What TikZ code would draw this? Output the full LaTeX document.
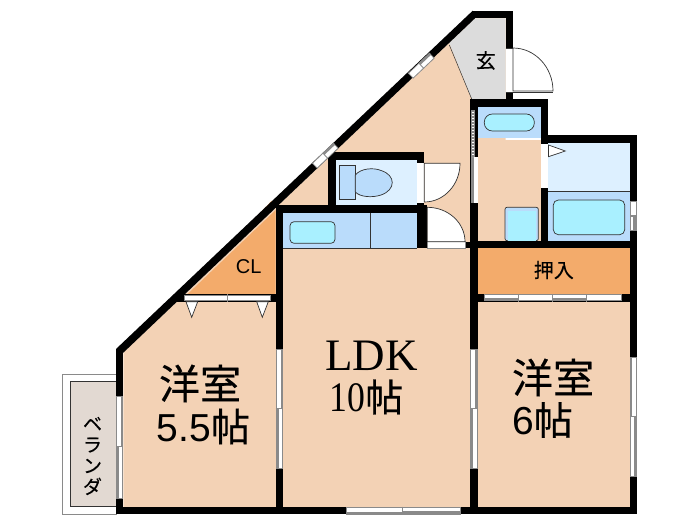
\documentclass[tikz,border=0pt]{standalone}
\usepackage{fontspec}
\setmainfont{Liberation Sans}
\newfontfamily\jpfont[FakeBold=0.3]{Noto Sans CJK JP}
\newfontfamily\ldkfont{Liberation Serif}
\definecolor{floorc}{HTML}{F3D2B5}
\definecolor{closetc}{HTML}{F3AB6B}
\definecolor{bluec}{HTML}{BADCFB}
\definecolor{palec}{HTML}{DDF0FF}
\definecolor{cyanc}{HTML}{A9F0FF}
\definecolor{genkanc}{HTML}{DCDCDC}
\definecolor{verandac}{HTML}{E2D9D2}
\definecolor{linec}{HTML}{333333}
\definecolor{winc}{HTML}{8A8A8A}
\tikzset{
  wall/.style={fill=black},
  fixture/.style={draw=linec,line width=0.7pt},
  doorleaf/.style={draw=linec,fill=white,line width=0.7pt},
  winframe/.style={draw=winc,fill=white,line width=0.8pt},
  winshade/.style={fill=winc},
  jplabel/.style={inner sep=0pt,font=\jpfont},
}
\begin{document}
\begin{tikzpicture}[x=1pt,y=-1pt]
\useasboundingbox (0,0) rectangle (700,525);

% veranda
\draw[winc,fill=white,line width=0.9pt] (62.7,374) rectangle (116,514);
\draw[linec,fill=verandac,line width=0.6pt] (70,381) rectangle (116,506.7);

% floors
\fill[closetc] (246.7,226.7) -- (271.7,200.7) -- (275,205) -- (250,230) -- cycle;
\fill[floorc] (123.3,352.7) -- (475,18.3) -- (505.5,18.3) -- (505.5,140) -- (630,140) -- (630,507) -- (123.3,507) -- cycle;
\fill[genkanc] (449.3,43) -- (475,18.3) -- (505.5,18.3) -- (505.5,99) -- (471.7,99) -- cycle;
\draw[linec,line width=0.5pt] (449.3,45) -- (471.7,99);
\fill[closetc] (187.7,294) -- (275.7,210) -- (275.7,294) -- cycle;
\fill[closetc] (477.7,248.3) rectangle (630,293.5);
\fill[palec] (336,160) rectangle (417,205);
\fill[palec] (548.3,143) rectangle (630,191);
\fill[bluec] (548.3,191) rectangle (630,240.7);
\fill[bluec] (477.7,107) rectangle (540.7,138);
\fill[bluec] (283.3,213) rectangle (417,248);
\draw[linec,line width=0.6pt] (283.3,248) -- (417,248);
\draw[linec,line width=0.6pt] (370,213) -- (370,248);
\draw[linec,line width=0.6pt] (548.3,191) -- (630,191);

% fixtures
\draw[fixture,fill=cyanc,rounded corners=4pt] (290,221.7) rectangle (335,243.3);
\draw[fixture,fill=cyanc,rounded corners=8pt] (484.3,114) rectangle (534.3,131);
\draw[fixture,fill=cyanc,rounded corners=5pt] (553.3,200) rectangle (624.7,234.7);
\draw[fixture,fill=bluec,rounded corners=2pt] (505,207.3) rectangle (538.3,240.7);
\fill[cyanc] (508,211) rectangle (535.5,240.7);
\draw[fixture,fill=bluec] (339.3,165.7) rectangle (355.3,199.3);
\draw[fixture,fill=bluec] (355.3,175) .. controls (361,168) and (374,167.5) .. (381,170.5) .. controls (396,175) and (396,190) .. (381,195) .. controls (372,198) and (360,197) .. (355.3,192) -- cycle;

% walls
\fill[wall] (116,349) -- (472.7,10.7) -- (475,18.3) -- (123.3,352.7) -- cycle;
\fill[wall] (116,349) rectangle (123.3,514);
\fill[wall] (472.7,10.7) rectangle (513,18.3);
\fill[wall] (505.5,10.7) rectangle (513,99);
\fill[wall] (470,99) rectangle (548.3,107);
\fill[wall] (540.7,99) rectangle (548.3,248);
\fill[wall] (540.7,135) rectangle (637,143);
\fill[wall] (630,135) rectangle (637,514);
\fill[wall] (116,506.7) rectangle (637,514);
\fill[wall] (470,99) rectangle (477.7,514);
\fill[wall] (470,240.7) rectangle (637,248.3);
\fill[wall] (477.7,293.5) rectangle (637,302);
\fill[wall] (275.7,205) rectangle (283.3,514);
\fill[wall] (176,294) rectangle (283.3,301.7);
\fill[wall] (328.3,152.3) rectangle (424.3,160);
\fill[wall] (328.3,152.3) rectangle (336,213);
\fill[wall] (417,152.3) rectangle (424.3,213);
\fill[wall] (275.7,205) rectangle (427.3,213.3);
\fill[wall] (417,213) rectangle (427.3,248);
\fill[wall] (465,241.7) rectangle (470,248);

% doors
\fill[white] (505.5,48) rectangle (513,92);
\draw[doorleaf] (513,48) arc[start angle=90,end angle=0,x radius=40pt,y radius=43pt] -- (513,91) -- cycle;
\draw[linec,line width=0.5pt] (505.5,48) -- (513,48) (505.5,92) -- (553,92);
\fill[white] (417,163.3) rectangle (424.3,202.7);
\draw[doorleaf] (424.3,163.3) -- (460,163.3) arc[start angle=0,end angle=-90,x radius=35.7pt,y radius=38.7pt] -- cycle;
\draw[winframe,line width=0.5pt] (427.3,241.7) rectangle (465,248);
\draw[doorleaf] (427.3,241.7) -- (427.3,207.3) arc[start angle=90,end angle=0,x radius=37.7pt,y radius=34.4pt] -- cycle;
\fill[white] (540.9,144) rectangle (548.1,187.7);
\draw[doorleaf] (548.5,145) -- (565.3,151) -- (548.5,156.7) -- cycle;
% sliding door to the hall
\fill[winshade] (471,110) rectangle (475,203);
\fill[white] (474,157) rectangle (477.7,203);
\draw[white,line width=1.4pt,dash pattern=on 1.4pt off 1.6pt] (473,112) -- (473,157);

% closet doors
\draw[winframe] (184.3,295) rectangle (270,300.7);
\draw[winc,line width=1pt] (227.3,294) -- (227.3,301.7);
\draw[doorleaf] (186,301.7) -- (197.7,301.7) -- (191.7,317.3) -- cycle;
\draw[doorleaf] (256.7,301.7) -- (268.3,301.7) -- (262.3,317.3) -- cycle;
\draw[winframe] (484.3,294.7) rectangle (621,300.7);
\draw[winc,line width=1.2pt] (518.3,294) -- (518.3,301.5) (552.7,294) -- (552.7,301.5) (586.7,294) -- (586.7,301.5);
\fill[winshade] (552.7,298) rectangle (586.7,300.7);
\fill[winshade] (484.3,298) rectangle (518.3,300.7);

% windows
\draw[winframe] (116.8,396) rectangle (122.8,498.3);
\fill[winshade] (116.8,446.7) rectangle (119.3,498.3);
\fill[winshade] (120.5,396) rectangle (122.8,446.7);
\draw[winc,line width=0.9pt] (116,446.7) -- (123.3,446.7);
\draw[winframe] (276.3,349.3) rectangle (282.7,468.3);
\fill[winshade] (276.3,408.3) rectangle (279,468.3);
\fill[winshade] (280.5,349.3) rectangle (282.7,408.3);
\draw[winc,line width=0.9pt] (275.7,408.3) -- (283.3,408.3);
\draw[winframe] (470.6,349.3) rectangle (477,468.3);
\fill[winshade] (470.6,408.3) rectangle (473.3,468.3);
\fill[winshade] (475,349.3) rectangle (477,408.3);
\draw[winc,line width=0.9pt] (470,408.3) -- (477.7,408.3);
\draw[winframe] (630.4,357.7) rectangle (636.6,476);
\fill[winshade] (633.5,416.7) rectangle (636.6,476);
\fill[winshade] (630.4,357.7) rectangle (632,416.7);
\draw[winc,line width=0.9pt] (630,416.7) -- (637,416.7);
\draw[winframe] (346.7,507.5) rectangle (460,514);
\fill[winshade] (346.7,512) rectangle (402.7,514);
\fill[winshade] (402.7,511) rectangle (460,514);
\draw[winc,line width=0.9pt] (402.7,506.7) -- (402.7,514);
\draw[winframe] (630.4,201.7) rectangle (636.8,215.5);
\draw[winframe] (630.4,216.5) rectangle (636.8,230);
\fill[winshade] (633,216.5) rectangle (636.8,230);

% windows on the slant
\begin{scope}[shift={(421.3,65.7)},rotate=43.5]
\draw[winframe] (-14.5,-3.4) rectangle (14.5,3.4);
\fill[winshade] (0,-3.4) rectangle (14.5,-1.2);
\draw[winc,line width=0.9pt] (0,-3.8) -- (0,3.8);
\end{scope}
\begin{scope}[shift={(325.3,155.7)},rotate=43.5]
\draw[winframe] (-14.5,-3.4) rectangle (14.5,3.4);
\fill[winshade] (0,-3.4) rectangle (14.5,-1.2);
\draw[winc,line width=0.9pt] (0,-3.8) -- (0,3.8);
\end{scope}

% labels
\node[jplabel,font=\jpfont\fontsize{20}{20}\selectfont] (genkan) at (485.7,60.5) {玄};
\node[jplabel,font=\fontsize{20}{20}\selectfont] (cl) at (248.7,266.7) {CL};
\node[jplabel,font=\jpfont\fontsize{20}{20}\selectfont] (oshiire) at (553.8,270) {押入};
\node[jplabel,font=\jpfont\fontsize{41}{41}\selectfont] (room1) at (200,383.5) {洋室};
\node[inner sep=0pt] (size1) at (203.5,426.5) {\fontsize{39}{39}\selectfont 5.5{\jpfont 帖}};
\node[jplabel,font=\jpfont\fontsize{41}{41}\selectfont] (room2) at (553,377.5) {洋室};
\node[inner sep=0pt] (size2) at (542.5,420) {\fontsize{39}{39}\selectfont 6{\jpfont 帖}};
\node[inner sep=0pt,font=\ldkfont\fontsize{45}{45}\selectfont] (ldk) at (371.5,355.5) {LDK};
\node[inner sep=0pt,font=\ldkfont\fontsize{42}{42}\selectfont] (size3) at (366.5,397) {\scalebox{0.85}[1]{10}{\fontsize{38}{38}\selectfont\jpfont 帖}};
\node[jplabel,font=\jpfont\fontsize{19}{21}\selectfont,align=center] (veranda) at (92.5,456) {ベ\\ラ\\ン\\ダ};
\end{tikzpicture}
\end{document}
